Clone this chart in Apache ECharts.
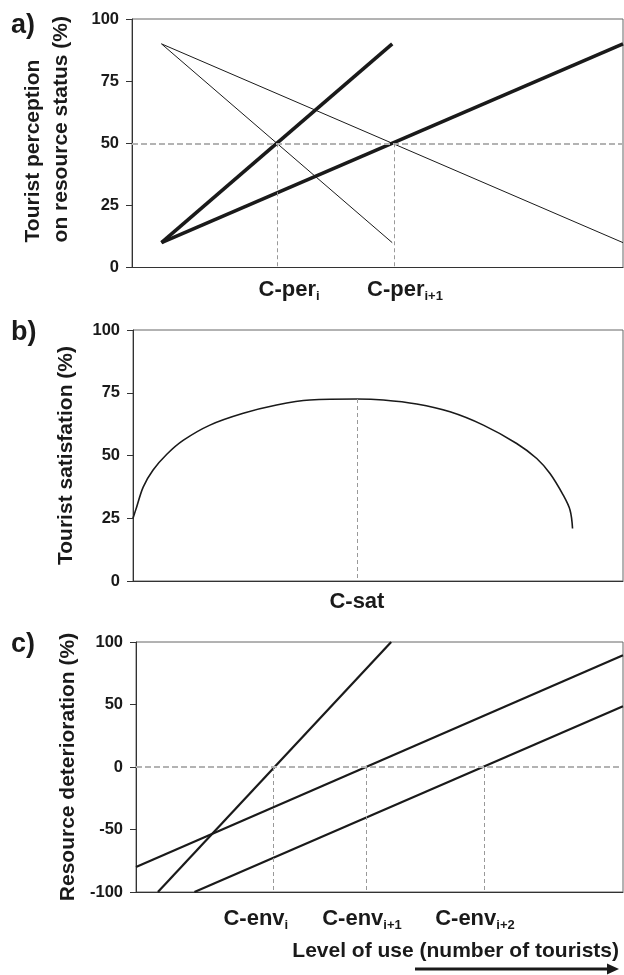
<!DOCTYPE html>
<html>
<head>
<meta charset="utf-8">
<script src="https://cdn.jsdelivr.net/npm/echarts@6/dist/echarts.min.js"></script>
<style>
  html, body { margin: 0; padding: 0; background: #fff; }
  #chart { width: 624px; height: 975px; }
</style>
</head>
<body>
<div id="chart"></div>
<script>
// a) perception lines (x = level of use, 0..100 of plot width)
const perThickA = [[6, 10], [53, 90]]
const perThickB = [[6, 10], [100, 90]]
const perThinA = [[6, 90], [53, 10]]
const perThinB = [[6, 90], [100, 10]]
const perLevel = 50
const perCross = [29.5, 53.5]
const perLabelAt = [32, 55.6]
const perSubs = ['i', 'i+1']

// b) satisfaction curve
const satX = [0, 0.75, 2.1, 4.1, 6.9, 10.3, 15.7, 22.5, 29.3, 36.1, 45.7, 51.1, 57.9, 64.7, 71.5, 78.3, 82.4, 85.1, 87.8, 89.2, 89.7]
const satY = [25, 29.5, 37.5, 44.2, 50.5, 56.1, 62.1, 66.8, 70.1, 72.1, 72.5, 72.1, 70.5, 67.4, 62.1, 54.8, 48.8, 42.8, 34.2, 28.2, 20.9]
const satPeakX = 45.7
const satPeakY = 72.5

// c) resource deterioration lines
const envSteep = [[4.5, -100], [52.4, 100]]
const envMid = [[0, -80], [100, 89.4]]
const envLow = [[12, -100], [100, 48.6]]
const envLevel = 0
const envCross = [28.1, 47.3, 71.5]
const envLabelAt = [24.6, 46.4, 69.6]
const envSubs = ['i', 'i+1', 'i+2']

const ink = '#1a1a1a'
const font = 'Liberation Sans, Arial, sans-serif'

const subRich = {
  m: { fontSize: 22, fontWeight: 'bold', color: ink, fontFamily: font, lineHeight: 26, verticalAlign: 'middle' },
  s: { fontSize: 13, fontWeight: 'bold', color: ink, fontFamily: font, lineHeight: 14, verticalAlign: 'bottom' }
}

const yAxisBase = {
  type: 'value',
  axisLine: { show: true, lineStyle: { color: '#333', width: 1 } },
  axisTick: { show: true, inside: false, length: 6, lineStyle: { color: '#333' } },
  axisLabel: { fontSize: 16.5, fontWeight: 'bold', color: ink, fontFamily: font, margin: 13 },
  splitLine: { show: false },
  nameLocation: 'middle',
  nameRotate: 90,
  nameTextStyle: { fontSize: 21, fontWeight: 'bold', color: ink, fontFamily: font }
}

const xAxisBase = {
  type: 'value',
  min: 0,
  max: 100,
  axisLine: { show: true, onZero: false, lineStyle: { color: '#333', width: 1 } },
  axisTick: { show: false },
  splitLine: { show: false }
}

function subLabel(base, pos, subs) {
  return function (v) {
    const k = pos.indexOf(v)
    if (k < 0) return ''
    return subs[k] ? '{m|' + base + '}{s|' + subs[k] + '}' : '{m|' + base + '}'
  }
}

function guideV(xs, yTop, yBottom) {
  return xs.map(x => [{ coord: [x, yTop] }, { coord: [x, yBottom] }])
}

const dashV = { color: '#999', width: 1, type: [4, 3] }
const dashH = { color: '#b3b3b3', width: 1.8, type: [6, 3] }

function line(name, xi, data, width, extra) {
  return Object.assign({
    name: name,
    type: 'line',
    xAxisIndex: xi,
    yAxisIndex: xi,
    data: data,
    showSymbol: false,
    symbol: 'none',
    silent: true,
    lineStyle: { color: ink, width: width }
  }, extra || {})
}

const myChart = echarts.init(document.getElementById('chart'), null, { renderer: 'canvas' })

const option = {
  animation: false,
  backgroundColor: '#fff',
  title: [
    { text: 'a)', left: 6, top: 7, textStyle: { fontSize: 27, fontWeight: 'bold', color: ink, fontFamily: font } },
    { text: 'b)', left: 6, top: 314, textStyle: { fontSize: 27, fontWeight: 'bold', color: ink, fontFamily: font } },
    { text: 'c)', left: 6, top: 626, textStyle: { fontSize: 27, fontWeight: 'bold', color: ink, fontFamily: font } },
    { text: 'Level of use (number of tourists)', right: 0, top: 936, textStyle: { fontSize: 21, fontWeight: 'bold', color: ink, fontFamily: font } }
  ],
  grid: [
    { left: 132, top: 19, width: 491, height: 248.5, outerBoundsMode: 'none', show: true, borderColor: '#666', borderWidth: 1 },
    { left: 133, top: 330, width: 490, height: 251, outerBoundsMode: 'none', show: true, borderColor: '#666', borderWidth: 1 },
    { left: 136, top: 642, width: 487, height: 250, outerBoundsMode: 'none', show: true, borderColor: '#666', borderWidth: 1 }
  ],
  xAxis: [
    Object.assign({}, xAxisBase, {
      gridIndex: 0,
      axisLabel: { customValues: perLabelAt, formatter: subLabel('C-per', perLabelAt, perSubs), rich: subRich, margin: 9 }
    }),
    Object.assign({}, xAxisBase, {
      gridIndex: 1,
      axisLabel: { customValues: [satPeakX], formatter: subLabel('C-sat', [satPeakX], ['']), rich: subRich, margin: 8 }
    }),
    Object.assign({}, xAxisBase, {
      gridIndex: 2,
      axisLabel: { customValues: envLabelAt, formatter: subLabel('C-env', envLabelAt, envSubs), rich: subRich, margin: 14 }
    })
  ],
  yAxis: [
    Object.assign({}, yAxisBase, {
      gridIndex: 0, min: 0, max: 100, interval: 25,
      name: '{l|Tourist perception}\n{l|on resource status (%)}',
      nameGap: 57,
      nameTextStyle: {
        fontSize: 21, fontWeight: 'bold', color: ink, fontFamily: font, padding: [0, 0, 0, 28],
        rich: { l: { align: 'left', fontSize: 21, fontWeight: 'bold', color: ink, fontFamily: font, lineHeight: 28 } }
      }
    }),
    Object.assign({}, yAxisBase, {
      gridIndex: 1, min: 0, max: 100, interval: 25,
      name: 'Tourist satisfation (%)',
      nameGap: 56
    }),
    Object.assign({}, yAxisBase, {
      gridIndex: 2, min: -100, max: 100, interval: 50,
      name: 'Resource deterioration (%)',
      nameGap: 55
    })
  ],
  series: [
    // a)
    line('thin A', 0, perThinA, 1, {
      markLine: {
        silent: true, symbol: 'none', label: { show: false }, lineStyle: dashH,
        data: [{ yAxis: perLevel }]
      }
    }),
    line('thin B', 0, perThinB, 1, {
      markLine: {
        silent: true, symbol: 'none', label: { show: false }, lineStyle: dashV,
        data: guideV(perCross, perLevel, 0)
      }
    }),
    line('thick A', 0, perThickA, 3.6),
    line('thick B', 0, perThickB, 3.6),
    // b)
    line('satisfaction', 1, satX.map((x, i) => [x, satY[i]]), 1.6, {
      smooth: 0.35,
      markLine: {
        silent: true, symbol: 'none', label: { show: false }, lineStyle: dashV,
        data: guideV([satPeakX], satPeakY, 0)
      }
    }),
    // c)
    line('env steep', 2, envSteep, 2.2, {
      markLine: {
        silent: true, symbol: 'none', label: { show: false }, lineStyle: dashH,
        data: [{ yAxis: envLevel }]
      }
    }),
    line('env mid', 2, envMid, 2.2, {
      markLine: {
        silent: true, symbol: 'none', label: { show: false }, lineStyle: dashV,
        data: guideV(envCross, envLevel, -100)
      }
    }),
    line('env low', 2, envLow, 2.2)
  ],
  graphic: [
    { type: 'line', shape: { x1: 415, y1: 969, x2: 609, y2: 969 }, style: { stroke: ink, lineWidth: 3.2 } },
    { type: 'polygon', shape: { points: [[619, 969], [607, 963.5], [607, 974.5]] }, style: { fill: ink } }
  ]
}

myChart.setOption(option)
window.addEventListener('resize', function () {
  myChart.resize()
})
</script>
</body>
</html>
